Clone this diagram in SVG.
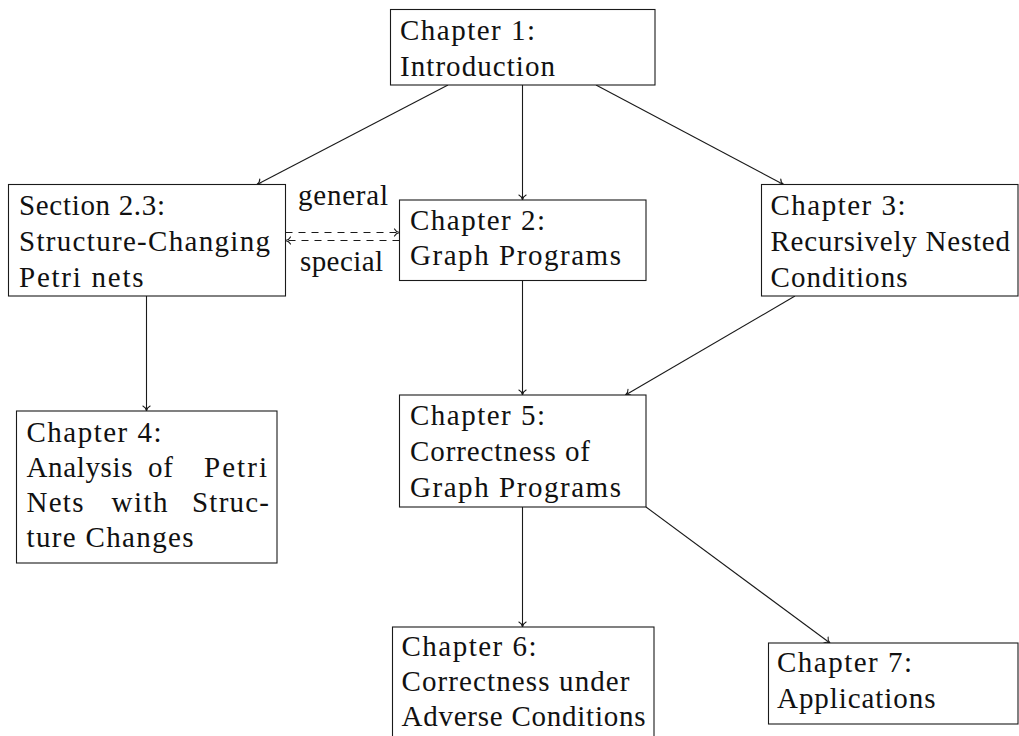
<svg xmlns="http://www.w3.org/2000/svg" width="1019" height="736" viewBox="0 0 1019 736">
  <style>
    .box { fill: #ffffff; stroke: #1a1a1a; stroke-width: 1.1; }
    .edge { fill: none; stroke: #1a1a1a; stroke-width: 1.1; marker-end: url(#to); }
    .dash { stroke-dasharray: 7 6; }
  </style>
  <defs>
    <!-- thin curved "to" style arrowhead -->
    <marker id="to" viewBox="-6 -5 7 10" markerWidth="7" markerHeight="10" refX="0" refY="0" orient="auto" markerUnits="userSpaceOnUse" overflow="visible">
      <path d="M-5,-3.6 C-4,-1.5 -1.6,-0.3 0,0 C-1.6,0.3 -4,1.5 -5,3.6" fill="none" stroke="#1a1a1a" stroke-width="1.1" stroke-linecap="round"/>
    </marker>
  </defs>

  <g id="connectors">
    <line class="edge" x1="448" y1="85" x2="257" y2="184.5"/>
    <line class="edge" x1="522.5" y1="85" x2="522.5" y2="200"/>
    <line class="edge" x1="596" y1="85" x2="783.5" y2="184.5"/>
    <line class="edge" x1="146.5" y1="296" x2="146.5" y2="411"/>
    <line class="edge" x1="522.5" y1="280.5" x2="522.5" y2="395"/>
    <line class="edge" x1="795" y1="296" x2="625.5" y2="395"/>
    <line class="edge" x1="522.5" y1="507" x2="522.5" y2="627"/>
    <line class="edge" x1="646" y1="507" x2="830" y2="643"/>
    <line class="edge dash" x1="285.5" y1="232.5" x2="399.5" y2="232.5"/>
    <line class="edge dash" x1="399.5" y1="240.5" x2="285.5" y2="240.5"/>
  </g>

  <g style="font-family: Liberation Serif, DejaVu Serif, Times New Roman, serif; font-size: 29px; fill: #111111">
    <g id="edge-labels">
      <text x="298" y="205" textLength="90">general</text>
      <text x="300" y="270.5" textLength="83">special</text>
    </g>

    <g id="ch1">
      <rect class="box" x="390.5" y="9.5" width="264.5" height="75.5"/>
      <text x="400" y="39.5" textLength="135">Chapter 1:</text>
      <text x="400" y="75.5" textLength="155">Introduction</text>
    </g>

    <g id="sec23">
      <rect class="box" x="8.5" y="184.5" width="277" height="111.5"/>
      <text x="19" y="214.5" textLength="146">Section 2.3:</text>
      <text x="19" y="250.5" textLength="251">Structure-Changing</text>
      <text x="19" y="286.5" textLength="124.5">Petri nets</text>
    </g>

    <g id="ch2">
      <rect class="box" x="399.5" y="200" width="246.5" height="80.5"/>
      <text x="410" y="230" textLength="135">Chapter 2:</text>
      <text x="410" y="265" textLength="211">Graph Programs</text>
    </g>

    <g id="ch3">
      <rect class="box" x="761.5" y="184.5" width="256.5" height="111.5"/>
      <text x="770.5" y="214.5" textLength="135">Chapter 3:</text>
      <text x="770.5" y="250.5" textLength="239.5">Recursively Nested</text>
      <text x="770.5" y="286.5" textLength="137">Conditions</text>
    </g>

    <g id="ch4">
      <rect class="box" x="16.5" y="411" width="260.5" height="152"/>
      <text x="26.5" y="441.5" textLength="135">Chapter 4:</text>
      <text x="26.5" y="476.5" textLength="106">Analysis</text>
      <text x="148" y="476.5" textLength="25">of</text>
      <text x="204" y="476.5" textLength="63">Petri</text>
      <text x="26.5" y="511.5" textLength="57">Nets</text>
      <text x="111.5" y="511.5" textLength="56">with</text>
      <text x="192" y="511.5" textLength="77">Struc-</text>
      <text x="26.5" y="546.5" textLength="167">ture Changes</text>
    </g>

    <g id="ch5">
      <rect class="box" x="399.5" y="395" width="246.5" height="112"/>
      <text x="410" y="425" textLength="135">Chapter 5:</text>
      <text x="410" y="461" textLength="180">Correctness of</text>
      <text x="410" y="497" textLength="211">Graph Programs</text>
    </g>

    <g id="ch6">
      <rect class="box" x="392.5" y="627" width="261.5" height="120"/>
      <text x="401.5" y="656" textLength="135">Chapter 6:</text>
      <text x="401.5" y="691" textLength="228">Correctness under</text>
      <text x="401.5" y="726" textLength="244">Adverse Conditions</text>
    </g>

    <g id="ch7">
      <rect class="box" x="768.5" y="643" width="249.5" height="81"/>
      <text x="777" y="672" textLength="135">Chapter 7:</text>
      <text x="777" y="708" textLength="158.5">Applications</text>
    </g>
  </g>
</svg>
